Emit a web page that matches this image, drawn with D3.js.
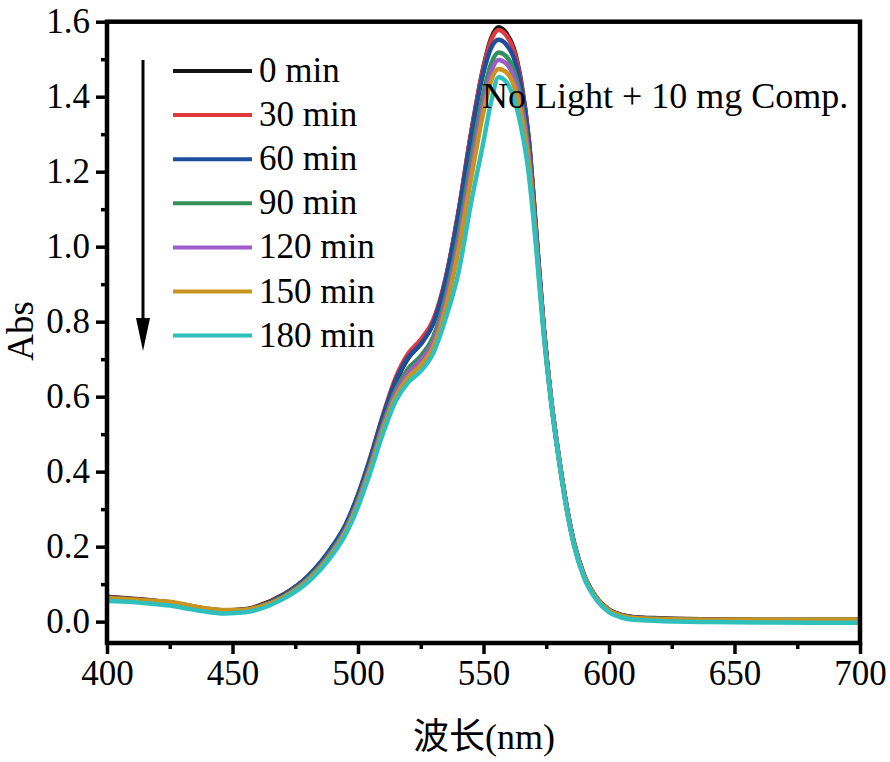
<!doctype html>
<html>
<head>
<meta charset="utf-8">
<script type='text/javascript' src='https://d3js.org/d3.v7.min.js'></script>
<style>
body { margin: 0; background: #fff; }
text { font-family: "Liberation Serif", "Times New Roman", "Noto Sans CJK SC", serif; fill: #000; }
</style>
</head>
<body>
<script>
var width = 890, height = 762;

// wavelengths (nm)
var wavelengths = [400,410,420,425,430,440,447,455,460,470,480,490,495,500,505,510,515,520,525,530,535,540,545,550,553,556,559,562,565,568,571,574,577,580,583,586,590,595,600,605,610,620,640,660,680,700];

// absorbance per time
var abs0 = [0.066,0.061,0.055,0.051,0.046,0.034,0.030,0.033,0.041,0.071,0.120,0.198,0.252,0.332,0.432,0.543,0.638,0.703,0.742,0.798,0.915,1.090,1.300,1.480,1.555,1.585,1.570,1.530,1.440,1.290,1.040,0.785,0.590,0.440,0.312,0.212,0.125,0.064,0.032,0.018,0.012,0.009,0.006,0.005,0.005,0.005];
var abs30 = [0.065,0.060,0.054,0.050,0.045,0.033,0.029,0.032,0.040,0.070,0.120,0.200,0.256,0.338,0.440,0.552,0.650,0.715,0.752,0.805,0.918,1.092,1.300,1.478,1.550,1.578,1.564,1.525,1.436,1.287,1.038,0.783,0.589,0.439,0.311,0.211,0.124,0.063,0.031,0.017,0.011,0.008,0.005,0.004,0.004,0.004];
var abs60 = [0.064,0.059,0.053,0.049,0.044,0.032,0.028,0.031,0.039,0.069,0.121,0.203,0.258,0.338,0.438,0.548,0.642,0.705,0.740,0.795,0.912,1.085,1.290,1.465,1.530,1.552,1.540,1.505,1.425,1.280,1.034,0.781,0.588,0.438,0.310,0.210,0.124,0.063,0.031,0.017,0.011,0.008,0.005,0.004,0.004,0.004];
var abs90 = [0.062,0.058,0.052,0.048,0.043,0.031,0.027,0.030,0.037,0.066,0.115,0.193,0.247,0.325,0.422,0.528,0.617,0.675,0.708,0.760,0.870,1.030,1.230,1.410,1.487,1.518,1.508,1.472,1.392,1.255,1.022,0.776,0.587,0.437,0.309,0.209,0.123,0.062,0.030,0.016,0.010,0.007,0.004,0.003,0.003,0.003];
var abs120 = [0.061,0.057,0.051,0.048,0.042,0.030,0.026,0.029,0.036,0.064,0.112,0.189,0.243,0.320,0.416,0.521,0.609,0.664,0.697,0.747,0.855,1.010,1.205,1.385,1.465,1.498,1.489,1.455,1.378,1.243,1.015,0.774,0.586,0.436,0.308,0.208,0.122,0.062,0.029,0.015,0.009,0.006,0.003,0.002,0.002,0.002];
var abs150 = [0.063,0.059,0.055,0.053,0.047,0.035,0.031,0.032,0.038,0.064,0.110,0.186,0.239,0.315,0.410,0.514,0.600,0.652,0.684,0.733,0.838,0.990,1.180,1.360,1.442,1.474,1.466,1.432,1.355,1.225,1.008,0.772,0.586,0.436,0.307,0.207,0.122,0.062,0.030,0.016,0.010,0.007,0.005,0.005,0.005,0.005];
var abs180 = [0.055,0.052,0.046,0.043,0.037,0.026,0.022,0.025,0.032,0.060,0.105,0.180,0.232,0.306,0.400,0.503,0.588,0.638,0.668,0.716,0.810,0.930,1.115,1.280,1.385,1.452,1.440,1.398,1.318,1.195,0.995,0.765,0.582,0.433,0.304,0.204,0.118,0.058,0.025,0.011,0.005,0.002,-0.001,-0.002,-0.003,-0.003];

var seriesNames = ['0 min','30 min','60 min','90 min','120 min','150 min','180 min'];
var seriesValues = [abs0, abs30, abs60, abs90, abs120, abs150, abs180];
var seriesColors = ['#141414','#e0393e','#1f4e9c','#34905a','#9d5cc9','#c8931f','#2fbfbd'];

var xTicks = [400,450,500,550,600,650,700];
var yTicks = [0.0,0.2,0.4,0.6,0.8,1.0,1.2,1.4,1.6];

var plotLeft = 107, plotRight = 860, plotTop = 21.7, plotBottom = 643;

var svg = d3.select('body').append('svg').attr('width', width).attr('height', height);

var x = d3.scaleLinear().domain([400, 700]).range([plotLeft, plotRight]);
var y = d3.scaleLinear().domain([-0.057, 1.6]).range([plotBottom, plotTop]);

// curves
var line = d3.line()
  .x(function(d) { return x(d[0]); })
  .y(function(d) { return y(d[1]); })
  .curve(d3.curveMonotoneX);

svg.append('g').selectAll('path')
  .data(seriesValues)
  .join('path')
  .attr('d', function(vals) { return line(wavelengths.map(function(w, i) { return [w, vals[i]]; })); })
  .attr('fill', 'none')
  .attr('stroke', function(d, i) { return seriesColors[i]; })
  .attr('stroke-width', 4.5)
  .attr('stroke-linejoin', 'round');

// minor ticks
svg.append('g').attr('transform', 'translate(0,' + plotBottom + ')')
  .call(d3.axisBottom(x).tickValues(d3.range(425, 700, 50)).tickSize(6).tickFormat(''))
  .call(function(g) { g.select('.domain').remove(); g.selectAll('line').attr('stroke-width', 3.5); });
svg.append('g').attr('transform', 'translate(' + plotLeft + ',0)')
  .call(d3.axisLeft(y).tickValues([0.1,0.3,0.5,0.7,0.9,1.1,1.3,1.5]).tickSize(6).tickFormat(''))
  .call(function(g) { g.select('.domain').remove(); g.selectAll('line').attr('stroke-width', 3.5); });

// major ticks
svg.append('g').attr('transform', 'translate(0,' + plotBottom + ')')
  .call(d3.axisBottom(x).tickValues(xTicks).tickSize(11).tickPadding(6).tickFormat(d3.format('d')))
  .call(function(g) {
    g.select('.domain').remove();
    g.selectAll('line').attr('stroke-width', 3.5);
    g.selectAll('text').attr('font-size', 35).attr('font-family', '"Liberation Serif", serif');
  });
svg.append('g').attr('transform', 'translate(' + plotLeft + ',0)')
  .call(d3.axisLeft(y).tickValues(yTicks).tickSize(11).tickPadding(6).tickFormat(d3.format('.1f')))
  .call(function(g) {
    g.select('.domain').remove();
    g.selectAll('line').attr('stroke-width', 3.5);
    g.selectAll('text').attr('font-size', 35).attr('font-family', '"Liberation Serif", serif');
  });

// frame
svg.append('rect')
  .attr('x', plotLeft).attr('y', plotTop)
  .attr('width', plotRight - plotLeft).attr('height', plotBottom - plotTop)
  .attr('fill', 'none').attr('stroke', '#000').attr('stroke-width', 4.5);

// legend
var legend = svg.append('g').selectAll('g')
  .data(seriesNames)
  .join('g')
  .attr('transform', function(d, i) { return 'translate(173,' + (71 + i * 44.1) + ')'; });
legend.append('line')
  .attr('x1', 0).attr('x2', 79)
  .attr('stroke', function(d, i) { return seriesColors[i]; })
  .attr('stroke-width', 4);
legend.append('text')
  .attr('x', 86).attr('y', 11)
  .attr('font-size', 35)
  .text(function(d) { return d; });

// arrow
svg.append('line')
  .attr('x1', 143).attr('x2', 143).attr('y1', 60).attr('y2', 322)
  .attr('stroke', '#000').attr('stroke-width', 3);
svg.append('path')
  .attr('d', 'M136,318 L150,318 L143,351 Z')
  .attr('fill', '#000');

// annotation
svg.append('text')
  .attr('x', 482).attr('y', 108)
  .attr('font-size', 36)
  .text('No Light + 10 mg Comp.');

// axis labels
svg.append('text')
  .attr('transform', 'translate(33,331) rotate(-90)')
  .attr('text-anchor', 'middle')
  .attr('font-size', 37)
  .text('Abs');
svg.append('text')
  .attr('x', 484).attr('y', 749)
  .attr('text-anchor', 'middle')
  .attr('font-size', 36)
  .text('波长(nm)');

console.log('ready..');
</script>
</body>
</html>
